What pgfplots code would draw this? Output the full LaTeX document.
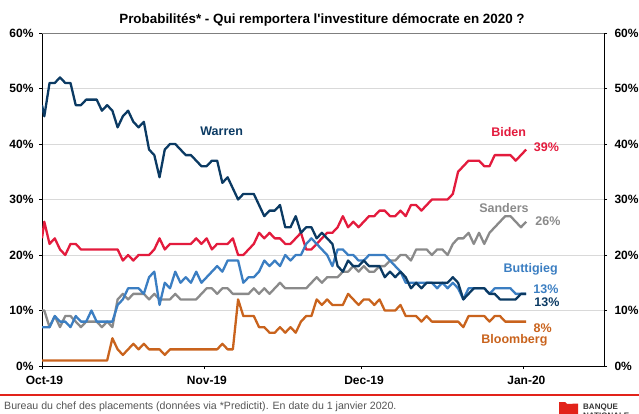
\documentclass[border=0pt]{standalone}
\usepackage{fontspec}
\setmainfont{Liberation Sans}
\usepackage{pgfplots}
\pgfplotsset{compat=1.18}
\usepackage{pgfplotstable}

\definecolor{warren}{HTML}{0B3A63}
\definecolor{biden}{HTML}{E31B3D}
\definecolor{sanders}{HTML}{8A8A8A}
\definecolor{pete}{HTML}{3B7EC2}
\definecolor{mike}{HTML}{C9631D}
\definecolor{bnred}{HTML}{E2231A}
\definecolor{topgray}{HTML}{7F7F7F}
\definecolor{footgray}{HTML}{555555}

% k = jour depuis le 1er oct. (point k trace a k+0.44)
\pgfplotstableread{
k     W  B  S  P  M
-0.44 47 23 10 7  1
0     45 26 10 7  1
1     51 22 7  7  1
2     51 23 9  9  1
3     52 21 7  8  1
4     51 20 9  8  1
5     51 22 9  7  1
6     47 22 8  9  1
7     47 21 7  8  1
8     48 21 8  8  1
9     48 21 8  10 1
10    48 21 8  8  1
11    46 21 7  8  1
12    47 21 8  8  1
13    46 21 7  8  5
14    43 21 12 11 3
15    45 19 13 12 2
16    46 20 12 14 3
17    44 19 13 14 4
18    43 20 13 14 3
19    44 20 13 13 4
20    39 20 12 16 3
21    38 21 13 17 3
22    34 23 12 11 3
23    39 21 12 15 2
24    40 22 12 14 3
25    40 22 13 17 3
26    39 22 12 15 3
27    38 22 12 16 3
28    38 22 12 15 3
29    37 23 12 17 3
30    36 22 13 15 3
31    36 23 14 16 3
32    37 21 14 17 3
33    37 22 13 18 3
34    33 22 14 17 4
35    34 22 14 19 3
36    32 23 13 19 3
37    30 20 13 19 12
38    31 20 13 15 9
39    31 21 13 16 9
40    31 22 14 16 9
41    29 24 13 17 7
42    27 23 14 19 7
43    28 24 13 18 6
44    28 23 14 19 6
45    29 23 15 18 7
46    25 22 14 20 6
47    25 22 14 19 7
48    27 23 14 20 6
49    24 24 14 20 8
50    25 21 14 22 9
51    25 21 15 23 9
52    23 22 16 22 12
53    24 23 15 21 11
54    23 24 16 20 12
55    22 24 16 18 11
56    18 25 16 21 11
57    17 27 17 21 11
58    19 25 17 20 13
59    18 26 18 20 12
60    18 25 17 19 11
61    19 26 18 19 12
62    18 27 17 20 12
63    18 27 17 20 11
64    18 28 18 20 12
65    16 28 18 20 10
66    17 27 19 19 10
67    16 27 19 18 10
68    17 28 20 17 11
69    16 27 20 15 9
70    14 29 19 15 9
71    15 29 21 15 9
72    14 28 21 15 8
73    15 29 21 15 9
74    15 30 20 15 8
75    15 30 21 14 8
76    15 30 21 15 8
77    15 30 20 14 8
78    16 31 22 15 8
79    15 35 23 14 8
80    12 36 23 12 7
81    13 37 24 14 9
82    14 37 22 14 9
83    14 37 24 14 9
84    14 36 22 14 9
85    13 36 24 13 8
86    13 38 25 14 9
87    12 38 26 14 9
88    12 38 27 14 8
89    12 38 27 14 8
90    12 37 26 13 8
91    13 38 25 13 8
92    13 39 26 13 8
}\polls

\pgfplotsset{
  base/.style={
    at={(42pt,47pt)}, anchor=south west,
    scale only axis, width=562pt, height=333pt,
    xmin=0, xmax=107.3, ymin=0, ymax=60,
    ytick={0,10,...,60},
    yticklabel={\pgfmathprintnumber{\tick}\%},
    /pgf/number format/assume math mode=true,
    tick align=outside, major tick length=3pt,
    tick style={black, line width=0.8pt},
    axis line style={-, black, line width=1pt},
    ticklabel style={font=\bfseries\fontsize{12}{12}\selectfont},
  },
}
\tikzset{lab/.style={anchor=base, font=\bfseries\fontsize{12.5}{12.5}\selectfont}}

\begin{document}
\begin{tikzpicture}
\useasboundingbox (0,0) rectangle (639pt,413pt);

\begin{axis}[base,
  axis x line*=bottom, axis y line*=left,
  xtick={0,31,61,92},
  xticklabels={Oct-19,Nov-19,Dec-19,Jan-20},
  xticklabel style={yshift=-4pt, xshift=2.5pt},
  yticklabel style={xshift=-2pt},
  ymajorgrids, grid style={gray!30, line width=0.9pt},
  every axis plot/.append style={line width=2.3pt, line join=round},
]
\addplot[sanders] table[x expr=\thisrow{k}+0.44, y=S] {\polls};
\addplot[mike] table[x expr=\thisrow{k}+0.44, y=M] {\polls};
\addplot[biden] table[x expr=\thisrow{k}+0.44, y=B] {\polls};
\addplot[pete] table[x expr=\thisrow{k}+0.44, y=P] {\polls};
\addplot[warren] table[x expr=\thisrow{k}+0.44, y=W] {\polls};

\draw[topgray, line width=1.4pt] (rel axis cs:0,1) -- (rel axis cs:1,1);

\node[lab, text=warren] at (axis cs:34.3,41.6) {Warren};
\node[lab, text=biden] at (axis cs:89.1,41.3) {Biden};
\node[lab, text=biden] at (axis cs:96.3,38.6) {39\%};
\node[lab, text=sanders] at (axis cs:88.2,27.7) {Sanders};
\node[lab, text=sanders] at (axis cs:96.6,25.4) {26\%};
\node[lab, text=pete] at (axis cs:93.3,16.9) {Buttigieg};
\node[lab, text=pete] at (axis cs:96.2,13.15) {13\%};
\node[lab, text=warren] at (axis cs:96.4,10.8) {13\%};
\node[lab, text=mike] at (axis cs:95.6,6.1) {8\%};
\node[lab, text=mike] at (axis cs:90.2,4.1) {Bloomberg};
\end{axis}

\begin{axis}[base, hide x axis, axis y line*=right,
  yticklabel style={xshift=4pt}]
\end{axis}

\node[anchor=base, font=\bfseries\fontsize{13.4}{13.4}\selectfont]
  at (322pt,389.7pt) {Probabilités* - Qui remportera l\textquotesingle investiture démocrate en 2020 ?};

\draw[bnred, line width=1.5pt] (0,18pt) -- (639pt,18pt);
\node[anchor=base west, inner sep=0, text=footgray, font=\fontsize{10.6}{10.6}\selectfont]
  at (4pt,4pt) {Bureau du chef des placements (données via *Predictit). En date du 1 janvier 2020.};

\fill[bnred] (559pt,-2pt) -- (559pt,11pt) -- (565pt,11pt) -- (567pt,9pt)
  -- (578pt,9.5pt) -- (578pt,-2pt) -- cycle;
\node[anchor=base west, inner sep=0, text=black!80, font=\bfseries\fontsize{8}{8}\selectfont]
  at (583pt,4pt) {BANQUE};
\node[anchor=base west, inner sep=0, text=black!80, font=\bfseries\fontsize{8}{8}\selectfont]
  at (583pt,-5pt) {NATIONALE};
\end{tikzpicture}
\end{document}
